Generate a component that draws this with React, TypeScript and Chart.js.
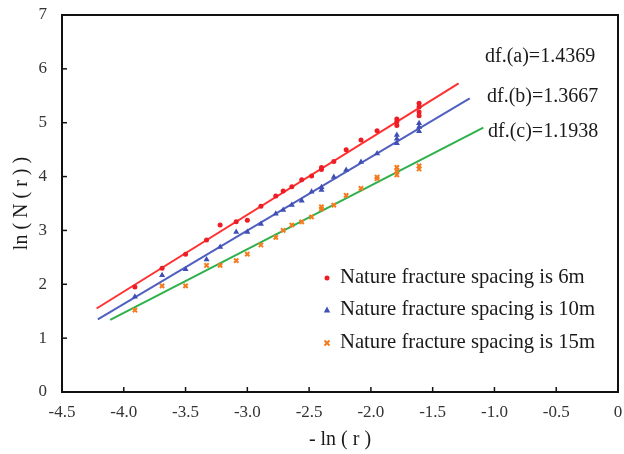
import React, { useEffect, useRef } from "react";
import { Chart, registerables } from "chart.js";

Chart.register(...registerables);

// ---- data ----
const seriesNames = [
  "Nature fracture spacing is 6m",
  "Nature fracture spacing is 10m",
  "Nature fracture spacing is 15m",
];
const dfLabels = ["df.(a)=1.4369", "df.(b)=1.3667", "df.(c)=1.1938"];

const x6m = [-3.91, -3.69, -3.5, -3.33, -3.22, -3.09, -3.0, -2.89, -2.77, -2.71, -2.64, -2.56, -2.48, -2.4, -2.4, -2.3, -2.2, -2.08, -1.95, -1.79, -1.79, -1.79, -1.61, -1.61, -1.61, -1.61];
const y6m = [1.95, 2.3, 2.56, 2.82, 3.1, 3.16, 3.19, 3.45, 3.64, 3.73, 3.81, 3.94, 4.01, 4.17, 4.13, 4.28, 4.5, 4.68, 4.85, 5.07, 5.02, 4.95, 5.36, 5.29, 5.2, 5.13];

const x10m = [-3.91, -3.69, -3.5, -3.33, -3.22, -3.09, -3.0, -2.89, -2.77, -2.71, -2.64, -2.56, -2.48, -2.4, -2.4, -2.3, -2.2, -2.08, -1.95, -1.79, -1.79, -1.79, -1.61, -1.61, -1.61];
const y10m = [1.77, 2.17, 2.28, 2.46, 2.69, 2.97, 2.97, 3.12, 3.31, 3.38, 3.47, 3.55, 3.72, 3.75, 3.8, 3.99, 4.12, 4.27, 4.43, 4.77, 4.7, 4.62, 4.99, 4.92, 4.84];

const x15m = [-3.91, -3.69, -3.5, -3.33, -3.22, -3.09, -3.0, -2.89, -2.77, -2.71, -2.64, -2.56, -2.48, -2.4, -2.4, -2.3, -2.2, -2.08, -1.95, -1.95, -1.79, -1.79, -1.79, -1.61, -1.61];
const y15m = [1.52, 1.97, 1.97, 2.35, 2.35, 2.44, 2.56, 2.73, 2.87, 3.0, 3.1, 3.16, 3.25, 3.4, 3.44, 3.47, 3.65, 3.78, 3.96, 3.99, 4.17, 4.1, 4.03, 4.2, 4.14];

// fitted lines (end points)
const fit6mX = [-4.22, -1.29];
const fit6mY = [1.55, 5.73];
const fit10mX = [-4.21, -1.2];
const fit10mY = [1.35, 5.45];
const fit15mX = [-4.11, -1.09];
const fit15mY = [1.34, 4.91];

const xMin = -4.5;
const xMax = 0;
const xStep = 0.5;
const yMin = 0;
const yMax = 7;
const yStep = 1;

// ---- styles ----
const SERIF = "'Liberation Serif', 'Times New Roman', serif";
const RED = "#ee1c24";
const BLUE = "#3f4fb3";
const ORANGE = "#f47b20";
const RED_LINE = "#ff3030";
const BLUE_LINE = "#5060c0";
const GREEN_LINE = "#2eb04a";

const pts = (xs: number[], ys: number[]) => xs.map((x, i) => ({ x, y: ys[i] }));

function drawMarker(ctx: CanvasRenderingContext2D, kind: number, x: number, y: number) {
  ctx.save();
  if (kind === 0) {
    ctx.fillStyle = RED;
    ctx.beginPath();
    ctx.arc(x, y, 2.5, 0, Math.PI * 2);
    ctx.fill();
  } else if (kind === 1) {
    ctx.fillStyle = BLUE;
    ctx.beginPath();
    ctx.moveTo(x, y - 3.5);
    ctx.lineTo(x + 3.2, y + 2.5);
    ctx.lineTo(x - 3.2, y + 2.5);
    ctx.closePath();
    ctx.fill();
  } else {
    ctx.strokeStyle = ORANGE;
    ctx.lineWidth = 2;
    ctx.beginPath();
    ctx.moveTo(x - 2.5, y - 2.5);
    ctx.lineTo(x + 2.5, y + 2.5);
    ctx.moveTo(x + 2.5, y - 2.5);
    ctx.lineTo(x - 2.5, y + 2.5);
    ctx.stroke();
  }
  ctx.restore();
}

const overlayPlugin = {
  id: "overlay",
  afterDraw(chart: any) {
    const { ctx, chartArea: a, scales } = chart;
    ctx.save();
    // inward tick marks
    ctx.strokeStyle = "#111";
    ctx.lineWidth = 1.5;
    scales.x.ticks.forEach((t: any) => {
      const px = scales.x.getPixelForValue(t.value);
      ctx.beginPath();
      ctx.moveTo(px, a.bottom);
      ctx.lineTo(px, a.bottom - 5);
      ctx.stroke();
    });
    scales.y.ticks.forEach((t: any) => {
      const py = scales.y.getPixelForValue(t.value);
      ctx.beginPath();
      ctx.moveTo(a.left, py);
      ctx.lineTo(a.left + 5, py);
      ctx.stroke();
    });
    // plot frame
    ctx.lineWidth = 2;
    ctx.strokeRect(a.left, a.top, a.right - a.left, a.bottom - a.top);

    // df annotations
    ctx.fillStyle = "#1a1a1a";
    ctx.font = `20px ${SERIF}`;
    ctx.textBaseline = "middle";
    ctx.textAlign = "left";
    const dfPos = [
      [485, 57],
      [487, 97],
      [488, 132],
    ];
    dfLabels.forEach((s, i) => ctx.fillText(s, dfPos[i][0], dfPos[i][1]));

    // legend
    ctx.font = `20.7px ${SERIF}`;
    const legY = [278, 310, 343];
    seriesNames.forEach((s, i) => {
      drawMarker(ctx, i, 327, legY[i]);
      ctx.fillStyle = "#1a1a1a";
      ctx.fillText(s, 340, legY[i]);
    });
    ctx.restore();
  },
};

export default function App() {
  const ref = useRef<HTMLCanvasElement | null>(null);

  useEffect(() => {
    if (!ref.current) return;
    const chart = new Chart(ref.current, {
      type: "scatter",
      data: {
        datasets: [
          {
            label: seriesNames[0],
            data: pts(x6m, y6m),
            pointStyle: "circle",
            pointRadius: 2.5,
            backgroundColor: RED,
            borderColor: RED,
            borderWidth: 0,
            order: 1,
          },
          {
            label: seriesNames[1],
            data: pts(x10m, y10m),
            pointStyle: "triangle",
            pointRadius: 3.5,
            backgroundColor: BLUE,
            borderColor: BLUE,
            borderWidth: 0,
            order: 1,
          },
          {
            label: seriesNames[2],
            data: pts(x15m, y15m),
            pointStyle: "crossRot",
            pointRadius: 3,
            backgroundColor: ORANGE,
            borderColor: ORANGE,
            borderWidth: 2,
            order: 1,
          },
          {
            label: "fit a",
            data: pts(fit6mX, fit6mY),
            showLine: true,
            pointRadius: 0,
            borderColor: RED_LINE,
            borderWidth: 2,
            order: 2,
          },
          {
            label: "fit b",
            data: pts(fit10mX, fit10mY),
            showLine: true,
            pointRadius: 0,
            borderColor: BLUE_LINE,
            borderWidth: 2,
            order: 2,
          },
          {
            label: "fit c",
            data: pts(fit15mX, fit15mY),
            showLine: true,
            pointRadius: 0,
            borderColor: GREEN_LINE,
            borderWidth: 2,
            order: 2,
          },
        ],
      },
      options: {
        animation: false,
        responsive: true,
        maintainAspectRatio: false,
        layout: { padding: { top: 15, right: 6, left: 0, bottom: 0 } },
        plugins: {
          legend: { display: false },
          tooltip: { enabled: false },
        },
        scales: {
          x: {
            type: "linear",
            min: xMin,
            max: xMax,
            ticks: {
              stepSize: xStep,
              padding: 10,
              color: "#333",
              font: { family: SERIF, size: 17 },
            },
            grid: { display: false, drawTicks: false },
            border: { display: false },
            title: {
              display: true,
              text: "- ln ( r )",
              color: "#1a1a1a",
              font: { family: SERIF, size: 20 },
              padding: { top: 0, bottom: 2 },
            },
            afterFit(scale: any) {
              scale.height = 62;
              scale.paddingLeft = 0;
              scale.paddingRight = 0;
            },
          },
          y: {
            type: "linear",
            min: yMin,
            max: yMax,
            ticks: {
              stepSize: yStep,
              padding: 15,
              color: "#333",
              font: { family: SERIF, size: 17 },
            },
            grid: { display: false, drawTicks: false },
            border: { display: false },
            title: {
              display: true,
              text: "ln ( N ( r ) )",
              color: "#1a1a1a",
              font: { family: SERIF, size: 20 },
              padding: { top: 10, bottom: 0 },
            },
            afterFit(scale: any) {
              scale.width = 62;
              scale.paddingTop = 0;
              scale.paddingBottom = 0;
            },
          },
        },
      },
      plugins: [overlayPlugin],
    } as any);
    return () => chart.destroy();
  }, []);

  return (
    <div style={{ position: "fixed", left: 0, top: 0, width: 624, height: 454, background: "#fff" }}>
      <canvas ref={ref} />
    </div>
  );
}
